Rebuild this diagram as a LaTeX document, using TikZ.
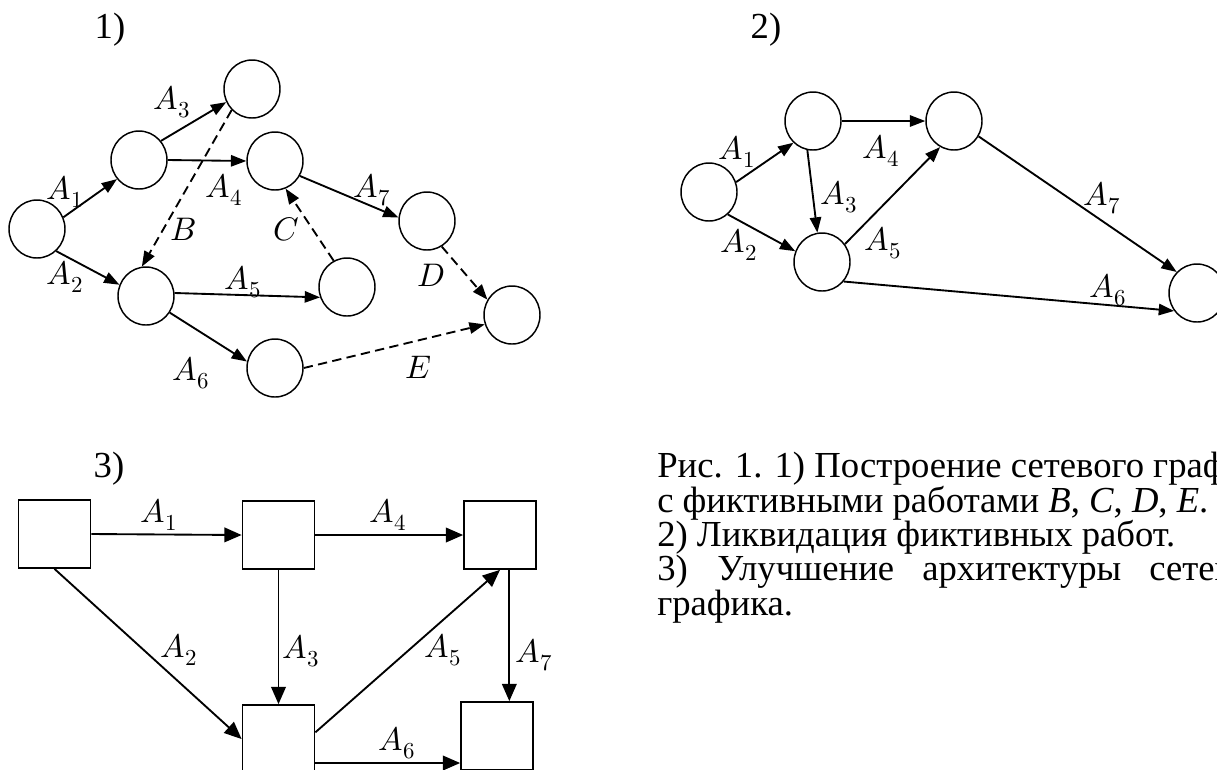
\documentclass[tikz,border=0pt]{standalone}
\usepackage{fontspec}
\usepackage{unicode-math}
\setmainfont{Liberation Serif}
\setmathfont{Latin Modern Math}
\usetikzlibrary{arrows.meta,shapes.geometric}
\begin{document}
\begin{tikzpicture}[x=0.75pt,y=-0.75pt,
  ev/.style={ellipse, draw, line width=1.1pt, minimum width=42pt, minimum height=43.5pt, inner sep=0pt},
  bx/.style={rectangle, draw, line width=1.3pt, minimum width=54pt, minimum height=51pt, inner sep=0pt},
  lab/.style={inner sep=0pt, font=\fontsize{24.5}{26}\selectfont},
  ttl/.style={inner sep=0pt, font=\fontsize{27.5}{28}\selectfont},
  captxt/.style={inner sep=0pt, anchor=base west, font=\fontsize{27.5}{28}\selectfont},
  arr/.style={line width=1.4pt, -{Triangle[length=11.5pt,width=8.5pt]}},
  darr/.style={arr, dash pattern=on 7pt off 4pt},
  arrb/.style={line width=1.4pt, -{Triangle[length=13pt,width=11pt]}}
]
\useasboundingbox (0,0) rectangle (1217,769);
\clip (0,0) rectangle (1217,769);
\fill[white] (0,0) rectangle (1217,769);

% ---------- panel 1 ----------
\node[ttl] (t1) at (110,30) {1)};
\node[ev] (a) at (37,229) {};
\node[ev] (b) at (139,160) {};
\node[ev] (c) at (252,89) {};
\node[ev] (d) at (275,161) {};
\node[ev] (e) at (146,296) {};
\node[ev] (f) at (347,287) {};
\node[ev] (g) at (427,221) {};
\node[ev] (h) at (512,315) {};
\node[ev] (i) at (275,368) {};

\draw[arr] (a.24) -- (b.221);
\draw[arr] (a.311) -- (e.157);
\draw[arr] (b.41) -- (c.207);
\draw[arr] (b.east) -- (d.west);
\draw[darr] (c.226) -- (e.98);
\draw[darr] (f.117) -- (d.291);
\draw[arr] (e.6) -- (f.201);
\draw[arr] (e.325) -- (i.167);
\draw[arr] (d.329) -- (g.173);
\draw[darr] (g.300) -- (h.148);
\draw[darr] (i.east) -- (h.199);

\node[lab] (l1a) at (65,192) {$A_1$};
\node[lab] (l1b) at (65,277) {$A_2$};
\node[lab] (l1c) at (172,102) {$A_3$};
\node[lab] (l1d) at (224,190) {$A_4$};
\node[lab] (l1e) at (183,229) {$B$};
\node[lab] (l1f) at (286,229) {$C$};
\node[lab] (l1g) at (243,282) {$A_5$};
\node[lab] (l1h) at (191,373) {$A_6$};
\node[lab] (l1i) at (372,190) {$A_7$};
\node[lab] (l1j) at (431,275) {$D$};
\node[lab] (l1k) at (418,367) {$E$};

% ---------- panel 2 ----------
\node[ttl] (t2) at (766,30) {2)};
\node[ev] (p) at (709,192) {};
\node[ev] (q) at (813,121) {};
\node[ev] (r) at (954,121) {};
\node[ev] (s) at (822,262) {};
\node[ev] (w) at (1197,293) {};

\draw[arr] (p.20) -- (q.228);
\draw[arr] (p.310) -- (s.158);
\draw[arr] (q.east) -- (r.west);
\draw[arr] (q.259) -- (s.99);
\draw[arr] (s.38) -- (r.242);
\draw[arr] (r.328) -- (w.134);
\draw[arr] (s.318) -- (w.218);

\node[lab] (l2a) at (737,152) {$A_1$};
\node[lab] (l2b) at (739,245) {$A_2$};
\node[lab] (l2c) at (881,151) {$A_4$};
\node[lab] (l2d) at (839,197) {$A_3$};
\node[lab] (l2e) at (883,243) {$A_5$};
\node[lab] (l2f) at (1102,198) {$A_7$};
\node[lab] (l2g) at (1108,290) {$A_6$};

% ---------- panel 3 ----------
\node[ttl] (t3) at (109,469) {3)};
\node[bx] (r1) at (54.5,534) {};
\node[bx] (r2) at (278.5,535) {};
\node[bx] (r3) at (500,535) {};
\node[bx] (r4) at (278.5,739) {};
\node[bx] (r5) at (497,736) {};

\draw[arrb] (r1.east) -- (r2.west);
\draw[arrb] (r2.east) -- (r3.west);
\draw[arrb] (r1.south) -- (r4.west);
\draw[arrb] (r2.south) -- (r4.north);
\draw[arrb] ([yshift=5pt]r4.east) -- (r3.south);
\draw[arrb] ([xshift=7pt]r3.south) -- ([xshift=7pt]r3.south |- r5.north);
\draw[arrb] ([yshift=-18pt]r4.east) -- ([yshift=-18pt]r4.east -| r5.west);

\node[lab] (l3a) at (159,515) {$A_1$};
\node[lab] (l3b) at (388,515) {$A_4$};
\node[lab] (l3c) at (179,650) {$A_2$};
\node[lab] (l3d) at (301,651) {$A_3$};
\node[lab] (l3e) at (443,650) {$A_5$};
\node[lab] (l3f) at (534,655) {$A_7$};
\node[lab] (l3g) at (397,743) {$A_6$};

% ---------- caption ----------
\node[captxt] (c1) at (657,477) {Рис. 1. 1) Построение сетевого графика};
\node[captxt] (c2) at (657,512) {с фиктивными работами \textit{B}, \textit{C}, \textit{D}, \textit{E}.};
\node[captxt] (c3) at (657,546) {2) Ликвидация фиктивных работ.};
\node[captxt] (c4a) at (657,580) {3)};
\node[captxt] (c4b) at (717,580) {Улучшение};
\node[captxt] (c4c) at (922,580) {архитектуры};
\node[captxt] (c4d) at (1149,580) {сетевого};
\node[captxt] (c5) at (657,615) {графика.};
\end{tikzpicture}
\end{document}
